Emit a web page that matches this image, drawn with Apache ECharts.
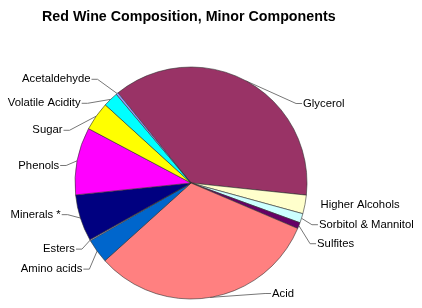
<!DOCTYPE html>
<html><head><meta charset="utf-8">
<script src="https://cdn.jsdelivr.net/npm/echarts@6/dist/echarts.min.js"></script>
<style>html,body{margin:0;padding:0;background:#fff}#c{width:422px;height:308px}</style>
</head><body><div id="c"></div>
<script>
const categories = ["Glycerol","Higher Alcohols","Sorbitol & Mannitol","Sulfites","Acid","Amino acids","Esters","Minerals *","Phenols","Sugar","Volatile Acidity","Acetaldehyde"];
const values = [37.5, 2.6, 1.3, 0.85, 31.9, 3.4, 0.15, 6.5, 9.4, 4.0, 2.1, 0.3];
const colors = ["#993366","#FFFFCC","#CCFFFF","#660066","#FF8080","#0066CC","#CCCCFF","#000080","#FF00FF","#FFFF00","#00FFFF","#9999FF"];
// label nudges (label text placement only)
const labelDx = [38, -5, -3, 0, 47, 8, 7, 1, 2, -13, -4, -6];
const labelDy = [33, 3, 8, 14, -8, 10, 3, -7, 7, 20, 6, -5];

const CX = 191, CY = 183, R = 116, START = 129;
const total = values.reduce((a,b)=>a+b,0);
const midAngles = [];
(function(){ let cum = 0; values.forEach(v=>{ midAngles.push(START - 360*(cum + v/2)/total); cum += v; }); })();

const chart = echarts.init(document.getElementById('c'), null, {renderer:'canvas'});
chart.setOption({
  animation:false,
  title:{text:'Red Wine Composition, Minor Components',left:37,top:5,
    textStyle:{fontFamily:'Liberation Sans, Arial, sans-serif',fontSize:14.25,fontWeight:'bold',color:'#000'}},
  series:[{
    type:'pie',
    center:[CX,CY],
    radius:R,
    startAngle:START,
    clockwise:true,
    avoidLabelOverlap:true,
    data: categories.map((n,i)=>({name:n,value:values[i],itemStyle:{color:colors[i]},
      labelLine: n === 'Higher Alcohols' ? {show:false} : undefined})),
    itemStyle:{borderColor:'#333',borderWidth:0.6},
    label:{show:true,position:'outside',formatter:'{b}',overflow:'none',fontFamily:'Liberation Sans, Arial, sans-serif',fontSize:11.3,color:'#000'},
    labelLine:{show:true,length:12,length2:8,lineStyle:{color:'#777',width:1}},
    labelLayout:function(p){
      const i = p.dataIndex, dx = labelDx[i], dy = labelDy[i];
      const r = p.labelRect;
      const rx = r.x + dx, ry = r.y + dy, my = ry + r.height/2;
      const a = midAngles[i]*Math.PI/180;
      const ex = CX + R*Math.cos(a), ey = CY - R*Math.sin(a);
      const right = (rx + r.width/2) > CX;
      const endX = right ? rx - 1 : rx + r.width + 1;
      const elbX = right ? endX - 6 : endX + 6;
      return {dx:dx, dy:dy, labelLinePoints:[[ex,ey],[elbX,my],[endX,my]]};
    },
    emphasis:{disabled:true}
  }]
});
</script></body></html>
